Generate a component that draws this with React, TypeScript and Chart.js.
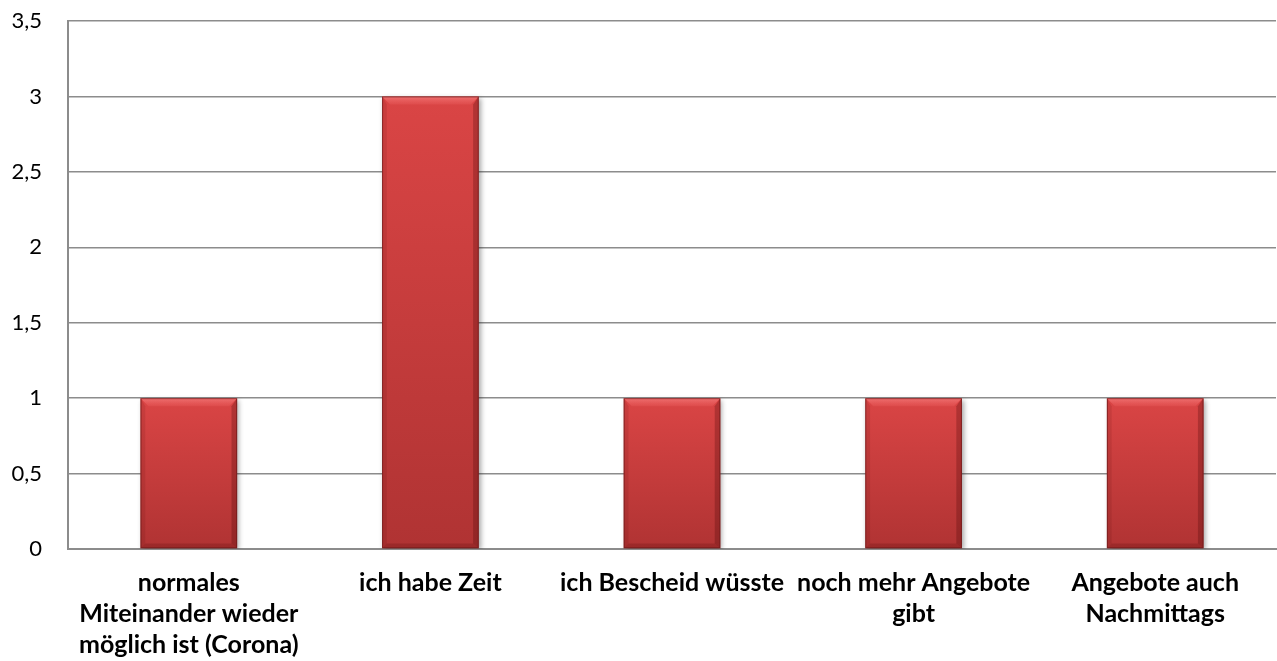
import React, { useEffect, useRef } from "react";
import { Chart, registerables } from "chart.js";

Chart.register(...registerables);

const categories: (string | string[])[] = [
  ["normales", "Miteinander wieder", "möglich ist (Corona)"],
  "ich habe Zeit",
  "ich Bescheid wüsste",
  ["noch mehr Angebote", "gibt"],
  ["Angebote auch", "Nachmittags"],
];
const values: number[] = [1, 3, 1, 1, 1];
const yMin = 0;
const yMax = 3.5;
const yStep = 0.5;

const bevelPlugin = {
  id: "bevel",
  beforeDatasetsDraw(chart: any) {
    const ctx = chart.ctx;
    ctx.save();
    ctx.shadowColor = "rgba(0,0,0,0.35)";
    ctx.shadowBlur = 5;
    ctx.shadowOffsetX = 2;
    ctx.shadowOffsetY = 2;
  },
  afterDatasetsDraw(chart: any) {
    const ctx = chart.ctx;
    ctx.restore();
    const meta = chart.getDatasetMeta(0);
    meta.data.forEach((el: any) => {
      const { x, y, base, width } = el.getProps(["x", "y", "base", "width"], true);
      const l = x - width / 2;
      const r = x + width / 2;
      const t = Math.min(y, base);
      const b = Math.max(y, base);
      const bv = 8;
      const poly = (pts: number[][], fill: string | CanvasGradient) => {
        ctx.beginPath();
        ctx.moveTo(pts[0][0], pts[0][1]);
        for (let i = 1; i < pts.length; i++) ctx.lineTo(pts[i][0], pts[i][1]);
        ctx.closePath();
        ctx.fillStyle = fill;
        ctx.fill();
      };
      ctx.save();
      const tg = ctx.createLinearGradient(0, t, 0, t + bv);
      tg.addColorStop(0, "rgba(255,150,150,0.55)");
      tg.addColorStop(1, "rgba(255,120,120,0.15)");
      poly([[l, t], [r, t], [r - bv, t + bv], [l + bv, t + bv]], tg);
      poly([[l, t], [l + bv * 0.6, t + bv], [l + bv * 0.6, b - bv * 0.6], [l, b]], "rgba(60,0,0,0.10)");
      poly([[r, t], [r - bv * 0.7, t + bv], [r - bv * 0.7, b - bv * 0.6], [r, b]], "rgba(60,0,0,0.25)");
      poly([[l, b], [l + bv * 0.6, b - bv * 0.6], [r - bv * 0.7, b - bv * 0.6], [r, b]], "rgba(60,0,0,0.18)");
      ctx.strokeStyle = "rgba(110,25,25,0.7)";
      ctx.lineWidth = 1;
      ctx.strokeRect(l + 0.5, t + 0.5, width - 1, b - t - 1);
      ctx.restore();
    });
  },
};

export default function App() {
  const ref = useRef<HTMLCanvasElement>(null);
  useEffect(() => {
    if (!ref.current) return;
    const chart = new Chart(ref.current, {
      type: "bar",
      data: {
        labels: categories,
        datasets: [
          {
            data: values,
            backgroundColor: (c: any) => {
              const ch = c.chart;
              const ys = ch.scales.y;
              if (!ys || c.dataIndex === undefined) return "#c83c3c";
              const top = ys.getPixelForValue(c.raw);
              const bot = ys.getPixelForValue(0);
              if (!isFinite(top) || !isFinite(bot) || top === bot) return "#c83c3c";
              const g = ch.ctx.createLinearGradient(0, top, 0, bot);
              g.addColorStop(0, "#da4545");
              g.addColorStop(1, "#b03333");
              return g;
            },
            borderWidth: 0,
            barPercentage: 0.4,
            categoryPercentage: 1,
          },
        ],
      },
      options: {
        responsive: false,
        animation: false,
        layout: { padding: { top: 21, right: 1, left: 0, bottom: 0 } },
        plugins: { legend: { display: false }, tooltip: { enabled: false } },
        scales: {
          x: {
            grid: { display: false, drawTicks: false },
            border: { display: true, color: "#8c8c8c", width: 2 },
            ticks: {
              color: "#000",
              padding: 18,
              maxRotation: 0,
              autoSkip: false,
              font: { family: "Lato, 'Open Sans', sans-serif", size: 25, weight: "bold", lineHeight: 1.24 },
            },
            afterFit: (s: any) => {
              s.height = 661 - 549;
              s.paddingLeft = 0;
              s.paddingRight = 0;
            },
          },
          y: {
            min: yMin,
            max: yMax,
            grid: { color: "#8c8c8c", lineWidth: 1.5, drawTicks: false },
            border: { display: true, color: "#8c8c8c", width: 2 },
            ticks: {
              stepSize: yStep,
              color: "#000",
              padding: 26,
              font: { family: "Lato, 'Open Sans', sans-serif", size: 22 },
              callback: (v: any) => String(v).replace(".", ","),
            },
            afterFit: (s: any) => {
              s.width = 68;
              s.paddingTop = 0;
              s.paddingBottom = 0;
            },
          },
        },
      },
      plugins: [bevelPlugin],
    });
    return () => chart.destroy();
  }, []);
  return (
    <div style={{ position: "absolute", left: 0, top: 0, width: 1277, height: 661, background: "#fff" }}>
      <canvas ref={ref} width={1277} height={661} />
    </div>
  );
}
